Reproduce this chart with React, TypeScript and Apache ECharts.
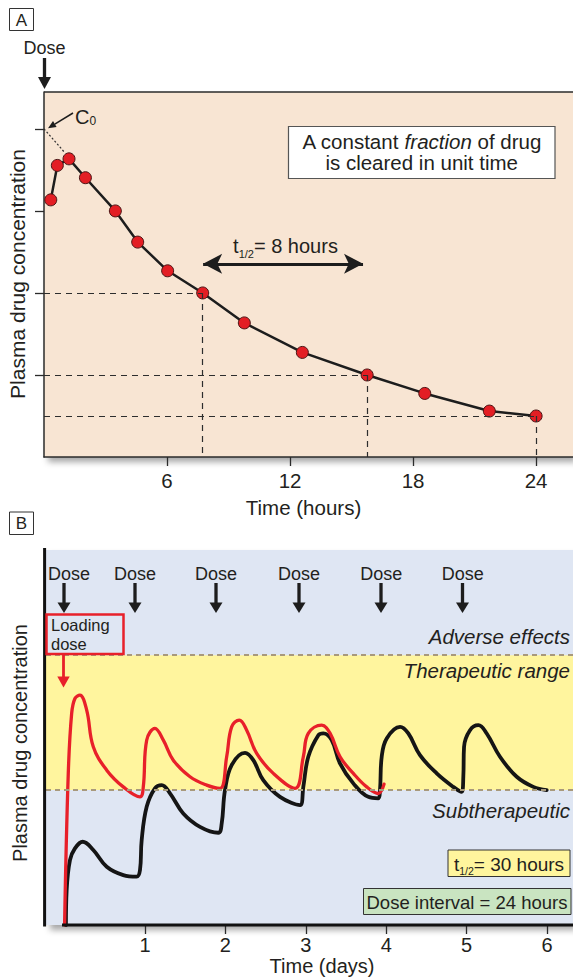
import React, { useEffect, useRef } from "react";
import * as echarts from "echarts";

// ---------- Panel A: single dose, first-order elimination ----------
const hoursA = [0.33, 0.65, 1.22, 2.02, 3.48, 4.57, 6.03, 7.74, 9.77, 12.6, 15.76, 18.57, 21.72, 24.0];
const concA = [6.27, 7.11, 7.27, 6.81, 6.0, 5.24, 4.54, 4.0, 3.27, 2.55, 2.0, 1.55, 1.12, 1.0];
const halfLifeIdx = [7, 10, 13];
const c0Value = 8;
const c0ExtrapEnd = [0.98, 7.44];
const hourTicks = [6, 12, 18, 24];
const concTicksA = [2, 4, 6, 8];
const halfLifeArrow = { from: 7.76, to: 15.56, level: 4.71 };

// ---------- Panel B: repeated dosing ----------
const daysRed = [0.0, 0.046, 0.088, 0.129, 0.19, 0.275, 0.357, 0.524, 0.73, 0.938, 0.979, 1.021, 1.124, 1.228, 1.352, 1.56, 1.767, 1.933, 2.016, 2.078, 2.173, 2.265, 2.389, 2.596, 2.866, 2.969, 3.031, 3.198, 3.301, 3.426, 3.591, 3.757, 3.902, 3.973];
const concRed = [0, 11.24, 15.68, 16.79, 17.04, 15.93, 13.21, 11.48, 10.24, 9.5, 10.24, 13.7, 14.57, 13.7, 12.22, 10.99, 10.37, 10.13, 12.47, 14.69, 15.19, 14.44, 12.72, 11.24, 10.13, 12.47, 14.2, 14.81, 14.22, 12.47, 11.24, 10.24, 9.75, 10.44];
const daysBlack = [0.017, 0.026, 0.067, 0.129, 0.225, 0.357, 0.524, 0.73, 0.897, 0.938, 0.959, 1.021, 1.124, 1.208, 1.311, 1.476, 1.684, 1.912, 1.954, 1.995, 2.078, 2.244, 2.347, 2.471, 2.679, 2.928, 2.969, 3.031, 3.156, 3.218, 3.322, 3.425, 3.591, 3.777, 3.902, 3.923, 3.944, 4.006, 4.172, 4.275, 4.42, 4.628, 4.834, 4.939, 4.959, 4.968, 5.042, 5.146, 5.25, 5.415, 5.623, 5.83, 5.996];
const concBlack = [0, 2.59, 4.81, 5.68, 6.17, 5.56, 4.32, 3.7, 3.58, 4.07, 6.3, 8.76, 10.13, 10.37, 9.76, 8.27, 7.28, 6.84, 7.53, 10.0, 11.85, 12.76, 12.22, 10.74, 9.5, 8.89, 10.24, 12.47, 14.07, 14.2, 13.7, 11.98, 10.5, 9.5, 9.39, 10.0, 12.47, 13.83, 14.69, 14.2, 12.59, 11.24, 10.24, 9.87, 10.99, 13.21, 14.44, 14.81, 14.2, 12.47, 10.99, 10.24, 10.0];
const therapeuticRange = [10, 20];
const dayTicks = [1, 2, 3, 4, 5, 6];

const FONT = '"Liberation Sans", Arial, Helvetica, sans-serif';
const INK = "#231f20";

function downArrow(x: number, y1: number, y2: number, color: string, w: number, headW: number, headH: number) {
  return [
    { type: "line", z: 100, shape: { x1: x, y1, x2: x, y2: y2 - headH + 1 }, style: { stroke: color, lineWidth: w } },
    { type: "polygon", z: 100, shape: { points: [[x - headW / 2, y2 - headH], [x + headW / 2, y2 - headH], [x, y2]] }, style: { fill: color } },
  ];
}

function txt(x: number, y: number, text: string, size: number, opts: any = {}) {
  return {
    type: "text",
    z: 100,
    x,
    y,
    rotation: opts.rotation || 0,
    style: {
      text,
      fill: opts.fill || INK,
      fontSize: size,
      fontFamily: FONT,
      fontStyle: opts.italic ? "italic" : "normal",
      align: opts.align || "center",
      verticalAlign: opts.vAlign || "middle",
      lineHeight: opts.lineHeight,
      rich: opts.rich,
    },
  };
}

function box(x: number, y: number, w: number, h: number, fill: string, stroke: string, lw = 1) {
  return { type: "rect", z: 99, shape: { x, y, width: w, height: h }, style: { fill, stroke, lineWidth: lw } };
}

function subRich(main: number, sub: number, lh: number) {
  return {
    m: { fontSize: main, fontFamily: FONT, fill: INK, lineHeight: lh },
    s: { fontSize: sub, fontFamily: FONT, fill: INK, lineHeight: sub, verticalAlign: "bottom" },
  };
}

export default function App() {
  const ref = useRef<HTMLDivElement>(null);

  useEffect(() => {
    document.body.style.margin = "0";
    const chart = echarts.init(ref.current!, undefined, { renderer: "svg" });

    const dashA = { type: [6, 5], color: "#2d2d2d", width: 1.2 };
    const markLinesA: any[] = [];
    halfLifeIdx.forEach((i) => {
      markLinesA.push([{ coord: [0, concA[i]], lineStyle: dashA }, { coord: [hoursA[i], concA[i]] }]);
      markLinesA.push([{ coord: [hoursA[i], concA[i]], lineStyle: dashA }, { coord: [hoursA[i], 0] }]);
    });
    markLinesA.push([
      { coord: [0, c0Value], lineStyle: { type: [2, 2], color: "#2d2d2d", width: 1.2 } },
      { coord: c0ExtrapEnd },
    ]);
    markLinesA.push([
      {
        coord: [halfLifeArrow.from, halfLifeArrow.level],
        symbol: "arrow",
        symbolSize: [15, 19],
        lineStyle: { type: "solid", color: "#1d1d1d", width: 3 },
      },
      { coord: [halfLifeArrow.to, halfLifeArrow.level], symbol: "arrow", symbolSize: [15, 19] },
    ]);

    const graphic: any[] = [
      // Panel A frame top + labels
      { type: "line", z: 50, shape: { x1: 44, y1: 92, x2: 573, y2: 92 }, style: { stroke: "#2b2b2b", lineWidth: 1.5 } },
      box(9.5, 8.5, 24, 22, "#ffffff", "#333", 1),
      txt(21.5, 20, "A", 17),
      txt(44.5, 48, "Dose", 18),
      ...downArrow(44.5, 58, 89, "#1d1d1d", 3.3, 13, 12),
      txt(75, 117, "{m|C}{s|0}", 20, { align: "left", rich: subRich(20, 12, 20) }),
      { type: "line", z: 100, shape: { x1: 73, y1: 113, x2: 54.8, y2: 124.1 }, style: { stroke: "#1d1d1d", lineWidth: 1.5 } },
      { type: "polygon", z: 100, shape: { points: [[48, 128.3], [56.6, 127.1], [53.0, 121.1]] }, style: { fill: "#1d1d1d" } },
      box(288.5, 126.5, 266.5, 52, "#ffffff", "#555", 1.2),
      txt(421.7, 152, "{n|A constant }{i|fraction}{n| of drug}\n{n|is cleared in unit time}", 20.5, {
        rich: {
          n: { fontSize: 20.5, fontFamily: FONT, fill: INK, lineHeight: 21 },
          i: { fontSize: 20.5, fontFamily: FONT, fill: INK, lineHeight: 21, fontStyle: "italic" },
        },
      }),
      txt(285.5, 246, "{m|t}{s|1/2}{m|= 8 hours}", 20, { rich: subRich(20, 11, 26) }),
      txt(17, 274, "Plasma drug concentration", 21, { rotation: Math.PI / 2 }),
      txt(303.5, 507, "Time (hours)", 20.5),

      // Panel B
      box(9.5, 512, 24, 22.5, "#ffffff", "#333", 1),
      txt(21.5, 523.5, "B", 17),
      { type: "line", z: 50, shape: { x1: 44.6, y1: 548, x2: 44.6, y2: 926.5 }, style: { stroke: "#111", lineWidth: 3 } },
      { type: "line", z: 50, shape: { x1: 62, y1: 925, x2: 573, y2: 925 }, style: { stroke: "#111", lineWidth: 3 } },
      txt(20, 743, "Plasma drug concentration", 20, { rotation: Math.PI / 2 }),
      txt(322, 965.5, "Time (days)", 20),
      txt(570, 636, "Adverse effects", 20.5, { align: "right", italic: true }),
      txt(570, 670, "Therapeutic range", 20.5, { align: "right", italic: true }),
      txt(570, 810, "Subtherapeutic", 20.5, { align: "right", italic: true }),
      box(448, 850, 122, 26.5, "#fff59d", "#333", 1),
      txt(509, 864, "{m|t}{s|1/2}{m|= 30 hours}", 19, { rich: subRich(19, 10.5, 24) }),
      box(363.5, 888.5, 207.5, 26, "#c9e4c1", "#333", 1),
      txt(467, 902, "Dose interval = 24 hours", 18.5),
      box(46.5, 614.5, 77, 39.5, "rgba(0,0,0,0)", "#e8202a", 2.5),
      txt(51, 624.8, "Loading", 16.5, { align: "left", lineHeight: 17 }),
      txt(51, 643.6, "dose", 16.5, { align: "left", lineHeight: 17 }),
      ...downArrow(63.5, 654, 687.5, "#e8202a", 2.8, 12.5, 11),
    ];

    const doseArrowX = [64, 135, 216, 299, 381, 462.5];
    const doseLabelX = [69, 135, 216, 299, 381.3, 462.8];
    doseArrowX.forEach((x, k) => {
      graphic.push(txt(doseLabelX[k], 573.5, "Dose", 18));
      graphic.push(...downArrow(x, 583, 613, "#1d1d1d", 3.3, 13, 10.5));
    });

    const option: any = {
      animation: false,
      textStyle: { fontFamily: FONT },
      grid: [
        {
          left: 44, top: 92, right: 0, bottom: 520, show: true,
          backgroundColor: "#f8e5d3", borderWidth: 0,
          shadowBlur: 6, shadowColor: "rgba(0,0,0,0.35)", shadowOffsetX: 4, shadowOffsetY: 5,
        },
        {
          left: 46, top: 550, right: 0, bottom: 52, show: true,
          backgroundColor: "#dfe6f3", borderWidth: 0,
          shadowBlur: 6, shadowColor: "rgba(0,0,0,0.35)", shadowOffsetX: 4, shadowOffsetY: 5,
        },
      ],
      xAxis: [
        {
          gridIndex: 0, type: "value", min: 0, max: 25.8, interval: 6,
          axisLine: { show: true, lineStyle: { color: "#2b2b2b", width: 1.5 } },
          axisTick: { show: true, length: 9, customValues: hourTicks, lineStyle: { color: "#2b2b2b", width: 1.3 } },
          axisLabel: { customValues: hourTicks, fontSize: 20.5, color: INK, margin: 13, fontFamily: FONT },
          splitLine: { show: false },
        },
        {
          gridIndex: 1, type: "value", min: -0.231, max: 6.323,
          axisLine: { show: false },
          axisTick: { show: true, length: 9, customValues: dayTicks, lineStyle: { color: "#2b2b2b", width: 1.3 } },
          axisLabel: { customValues: dayTicks, fontSize: 20, color: INK, margin: 10, fontFamily: FONT },
          splitLine: { show: false },
        },
      ],
      yAxis: [
        {
          gridIndex: 0, type: "value", min: 0, max: 8.9, interval: 2,
          axisLine: { show: true, lineStyle: { color: "#2b2b2b", width: 1.5 } },
          axisTick: { show: true, length: 9, customValues: concTicksA, lineStyle: { color: "#2b2b2b", width: 1.3 } },
          axisLabel: { show: false },
          splitLine: { show: false },
        },
        {
          gridIndex: 1, type: "value", min: 0, max: 27.8,
          axisLine: { show: false }, axisTick: { show: false }, axisLabel: { show: false }, splitLine: { show: false },
        },
      ],
      series: [
        {
          type: "line", xAxisIndex: 0, yAxisIndex: 0, z: 3,
          data: hoursA.map((h, i) => [h, concA[i]]),
          lineStyle: { color: "#1d1d1d", width: 2.5 },
          symbol: "circle", symbolSize: 12,
          itemStyle: { color: "#e31e24", borderColor: "#4a1414", borderWidth: 1 },
          markLine: { silent: true, symbol: "none", label: { show: false }, data: markLinesA },
        },
        {
          type: "line", xAxisIndex: 1, yAxisIndex: 1, z: 3,
          data: daysBlack.map((d, i) => [d, concBlack[i]]),
          smooth: 0.4,
          showSymbol: false, symbol: "none",
          lineStyle: { color: "#151515", width: 3.8, join: "round", cap: "round" },
          markArea: {
            silent: true,
            itemStyle: { color: "#fff59e" },
            data: [[{ yAxis: therapeuticRange[0] }, { yAxis: therapeuticRange[1] }]],
          },
          markLine: {
            silent: true, symbol: "none", label: { show: false },
            lineStyle: { type: [5, 4], color: "#a8997c", width: 1.8 },
            data: [{ yAxis: therapeuticRange[0] }, { yAxis: therapeuticRange[1] }],
          },
        },
        {
          type: "line", xAxisIndex: 1, yAxisIndex: 1, z: 4,
          data: daysRed.map((d, i) => [d, concRed[i]]),
          smooth: 0.4,
          showSymbol: false, symbol: "none",
          lineStyle: { color: "#e8202a", width: 3.3, join: "round", cap: "round" },
        },
      ],
      graphic,
    };

    chart.setOption(option);
    return () => chart.dispose();
  }, []);

  return <div ref={ref} style={{ width: 573, height: 977 }} />;
}
